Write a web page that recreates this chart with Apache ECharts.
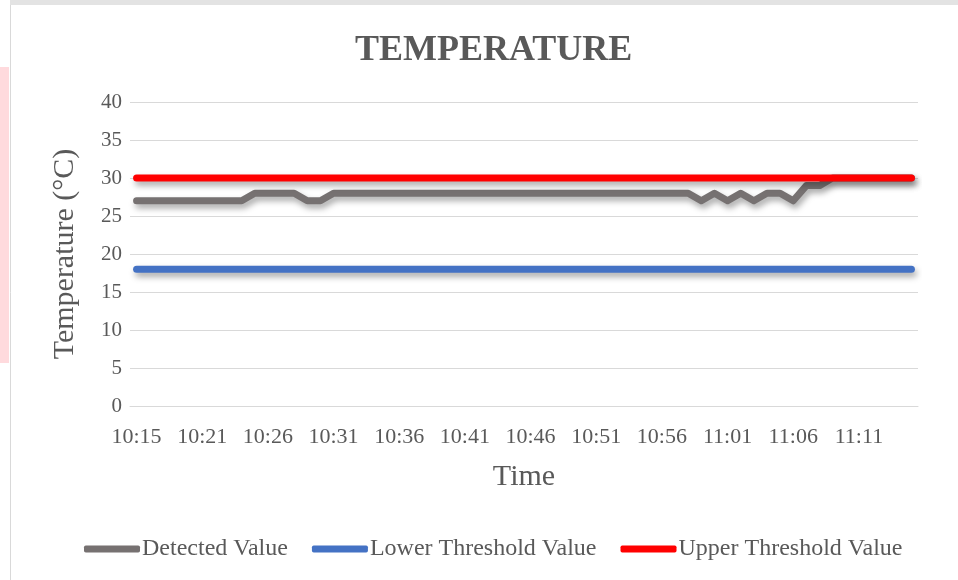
<!DOCTYPE html>
<html>
<head>
<meta charset="utf-8">
<script src="https://cdn.jsdelivr.net/npm/echarts@6/dist/echarts.min.js"></script>
<style>html,body{margin:0;padding:0;background:#fff;}#c{width:958px;height:580px;}</style>
</head>
<body>
<div id="c"></div>
<script>
const times = ['10:15','10:17','10:18','10:19','10:20','10:21','10:22','10:23','10:24','10:25',
  '10:26','10:27','10:28','10:29','10:30','10:31','10:32','10:33','10:34','10:35',
  '10:36','10:37','10:38','10:39','10:40','10:41','10:42','10:43','10:44','10:45',
  '10:46','10:47','10:48','10:49','10:50','10:51','10:52','10:53','10:54','10:55',
  '10:56','10:57','10:58','10:59','11:00','11:01','11:02','11:03','11:04','11:05',
  '11:06','11:07','11:08','11:09','11:10','11:11','11:12','11:13','11:14','11:15'];
const detected = [27,27,27,27,27,27,27,27,27,28,
  28,28,28,27,27,28,28,28,28,28,
  28,28,28,28,28,28,28,28,28,28,
  28,28,28,28,28,28,28,28,28,28,
  28,28,28,27,28,27,28,27,28,28,
  27,29,29,30,30,30,30,30,30,30];
const lowerThreshold = [18,18,18,18,18,18,18,18,18,18,
  18,18,18,18,18,18,18,18,18,18,
  18,18,18,18,18,18,18,18,18,18,
  18,18,18,18,18,18,18,18,18,18,
  18,18,18,18,18,18,18,18,18,18,
  18,18,18,18,18,18,18,18,18,18];
const upperThreshold = [30,30,30,30,30,30,30,30,30,30,
  30,30,30,30,30,30,30,30,30,30,
  30,30,30,30,30,30,30,30,30,30,
  30,30,30,30,30,30,30,30,30,30,
  30,30,30,30,30,30,30,30,30,30,
  30,30,30,30,30,30,30,30,30,30];
const seriesNames = ['Detected Value','Lower Threshold Value','Upper Threshold Value'];
const colors = ['#767171','#4472C4','#FF0000'];

const font = '"Liberation Serif","Times New Roman",serif';
const txt = '#595959';
const chart = echarts.init(document.getElementById('c'), null, {renderer:'canvas'});
function mk(name, data, color){
  return {
    name, type:'line', data, symbol:'none', smooth:false,
    lineStyle:{width:7, color, cap:'round', join:'round',
      shadowColor:'rgba(0,0,0,0.35)', shadowBlur:6, shadowOffsetX:2, shadowOffsetY:4},
    itemStyle:{color}
  };
}
chart.setOption({
  animation:false,
  backgroundColor:'#fff',
  graphic:[
    {type:'rect', shape:{x:10,y:0,width:948,height:5}, style:{fill:'#e3e3e3'}, silent:true},
    {type:'rect', shape:{x:0,y:67,width:9,height:296}, style:{fill:'#FFDADD'}, silent:true},
    {type:'line', shape:{x1:10.5,y1:5,x2:10.5,y2:580}, style:{stroke:'#d9d9d9', lineWidth:1}, silent:true}
  ],
  title:{text:'TEMPERATURE', left:350, top:28,
    textStyle:{fontFamily:font, fontSize:36, fontWeight:'bold', color:txt}},
  legend:{
    data:seriesNames, left:79, top:532, itemWidth:56, itemHeight:7, itemGap:24,
    icon:'roundRect',
    textStyle:{fontFamily:font, fontSize:24, color:txt, padding:[0,0,0,-3]}
  },
  grid:{left:130, right:40, top:102, bottom:174, containLabel:false},
  xAxis:{
    type:'category', data:times, boundaryGap:true,
    name:'Time', nameLocation:'middle', nameGap:56,
    nameTextStyle:{fontFamily:font, fontSize:30, color:txt},
    axisLine:{show:true, lineStyle:{color:'#d9d9d9', width:1}},
    axisTick:{show:false},
    axisLabel:{interval:4, fontFamily:font, fontSize:22, color:txt, margin:20}
  },
  yAxis:{
    type:'value', min:0, max:40, interval:5,
    name:'Temperature (°C)', nameLocation:'middle', nameGap:50,
    nameTextStyle:{fontFamily:font, fontSize:30, color:txt},
    axisLine:{show:false}, axisTick:{show:false},
    splitLine:{lineStyle:{color:'#d9d9d9', width:1}},
    axisLabel:{fontFamily:font, fontSize:21, color:txt, margin:8}
  },
  series:[
    mk(seriesNames[0], detected, colors[0]),
    mk(seriesNames[1], lowerThreshold, colors[1]),
    mk(seriesNames[2], upperThreshold, colors[2])
  ]
});
</script>
</body>
</html>
